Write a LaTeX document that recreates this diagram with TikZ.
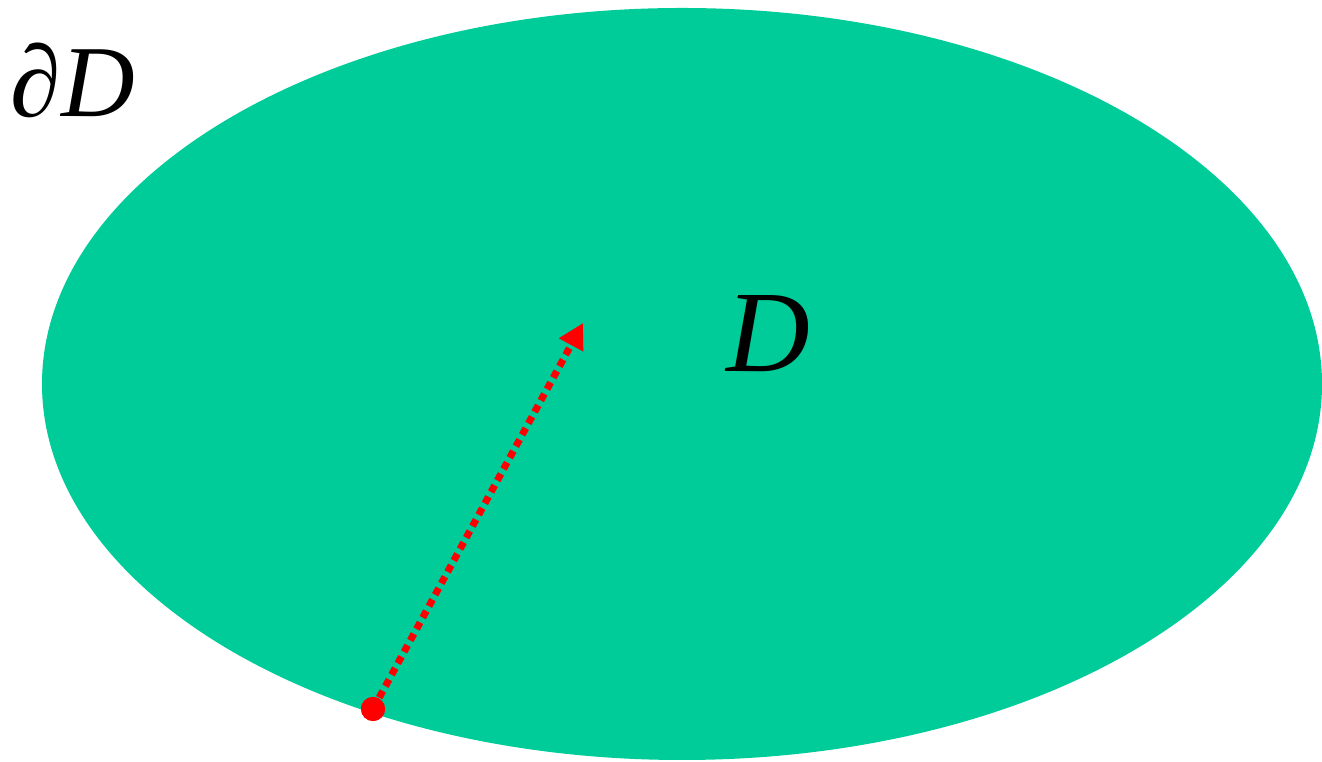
\documentclass[tikz,border=0pt]{standalone}
\usepackage{fontspec}
\setmainfont{Liberation Serif}
\usetikzlibrary{arrows.meta}
\definecolor{regiongreen}{RGB}{0,204,153}
\definecolor{pathred}{RGB}{255,0,0}
\begin{document}
\begin{tikzpicture}[x=0.01cm,y=-0.01cm,
  region/.style={fill=regiongreen,draw=none},
  lbl/.style={inner sep=0pt,anchor=base,font=\itshape},
  walk/.style={draw=pathred,line width=0.07cm,dash pattern=on 0.075cm off 0.055cm,-{Triangle[length=0.25cm,width=0.26cm]}},
  startdot/.style={circle,fill=pathred,inner sep=0pt,minimum size=0.24cm}]
\useasboundingbox (0,0) rectangle (1322,762);
\fill[region] (682,384) ellipse [x radius=640, y radius=376];
\node[lbl,font=\itshape\fontsize{29}{34}\selectfont] (bd) at (73,117) {∂D};
\node[lbl,font=\itshape\fontsize{33}{40}\selectfont] (d) at (768,372) {D};
\node[startdot] (s) at (373,709) {};
\coordinate (e) at (583,323);
\draw[walk] (s.center) -- (e);
\node[startdot] at (373,709) {};
\end{tikzpicture}
\end{document}
